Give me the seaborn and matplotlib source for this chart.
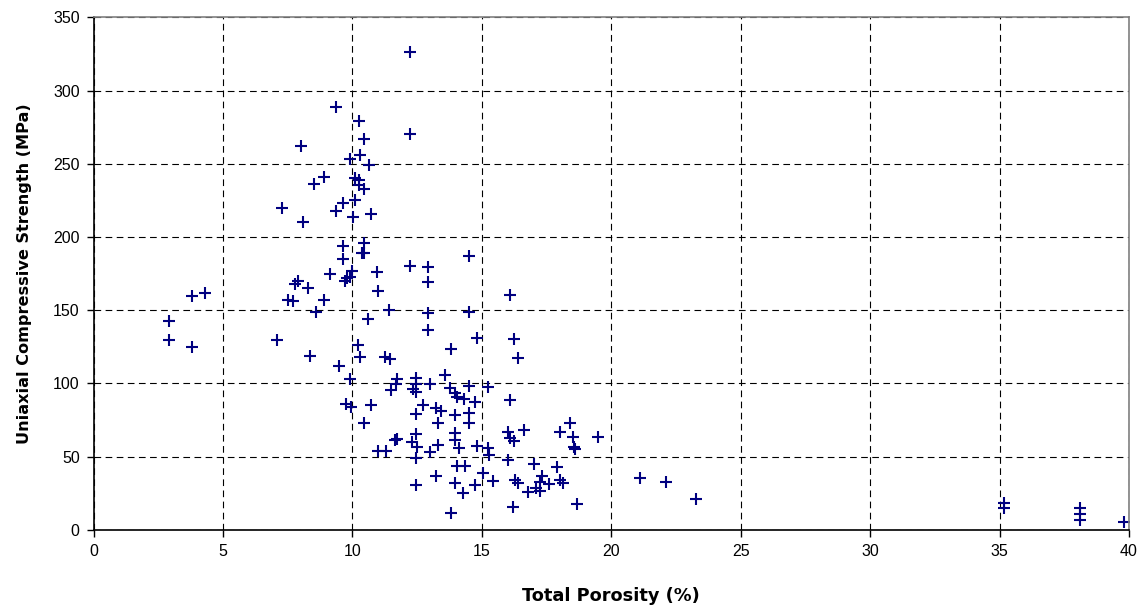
import matplotlib
matplotlib.use("Agg")
import matplotlib.pyplot as plt
import seaborn as sns
import pandas as pd

# Total porosity (%) and uniaxial compressive strength (MPa) per sample
porosity = [
    2.9, 2.9, 3.8, 4.3, 3.8,
    7.1, 7.3, 7.5, 7.7, 7.8, 7.9, 8.0, 8.1, 8.3, 8.35, 8.5, 8.6, 8.9, 8.9,
    9.15, 9.35, 9.35, 9.5, 9.65, 9.65, 9.65, 9.72, 9.78, 9.76, 9.89, 9.91,
    9.92, 9.95, 9.98, 10.01,
    10.1, 10.1, 10.27, 10.27, 10.3, 10.27, 10.43, 10.43, 10.43, 10.43, 10.36,
    10.66, 10.71, 10.2, 10.3, 10.43, 10.62, 10.72, 10.94, 11.0, 10.98, 11.3,
    11.26, 11.46, 11.43,
    11.73, 11.68, 11.5, 11.65, 11.72, 12.3, 12.51,
    12.45, 12.47, 12.45, 12.45, 12.47, 12.47, 12.36, 12.47, 12.23, 12.23,
    12.23, 12.72, 12.94, 12.94, 12.94, 12.94, 12.98, 12.98,
    13.23, 13.43, 13.32, 13.32, 13.23, 13.58, 13.81, 13.78, 13.97, 14.03,
    13.97, 13.97, 13.97, 14.1, 14.06, 14.35, 13.97, 14.29, 13.81, 14.32,
    14.52, 14.52, 14.52, 14.52, 14.52, 14.74, 14.74, 14.81, 14.81,
    15.23, 15.22, 15.29, 15.04, 15.42, 16.09, 16.26, 16.39, 16.09, 16.03,
    16.07, 16.26, 16.61, 16.03, 17.03, 17.9, 16.29, 16.39, 17.32, 17.25,
    17.61, 18.03, 18.15, 16.8, 17.1, 17.25, 16.22, 18.67, 18.39, 18.03,
    18.54, 18.57, 18.6, 19.5,
    21.12, 22.12, 23.28, 35.18, 35.18, 38.09, 38.09, 38.09, 39.79,
]
strength = [
    143, 130, 160, 161.5, 125,
    130, 220, 157, 156, 168, 170, 262, 210, 165, 119, 236, 149, 157, 241,
    175, 218, 289, 112, 223, 194, 185, 170, 172, 86, 173, 253,
    103, 84, 177, 214,
    240, 225, 239, 279, 256, 235.5, 233, 267, 196, 189, 189,
    249, 216, 126, 118, 73, 144, 85, 176, 163, 54, 54,
    118, 117, 150,
    103, 99.5, 95.3, 61.4, 62, 60.3, 56.4,
    79, 65.5, 49, 30.7, 104, 99.7, 96.2, 94, 326, 270,
    180, 85.3, 179.5, 169, 148, 136.5, 99.7, 53.5,
    83.5, 81.4, 73, 58, 36.9, 106, 123.5, 96.7, 93.3, 90.6,
    78.5, 66.4, 61.4, 55.8, 43.7, 43.7, 31.9, 25.5, 11.8, 89.2,
    98.3, 80, 73, 148.6, 187, 87.6, 30.7, 130.8, 57,
    97.4, 55.8, 51, 38.7, 33.5, 160.4, 130.4, 117.6, 88.7, 67.1,
    62.6, 61, 68.3, 47.8, 45, 43.2, 34.1, 32.3, 36.9, 33,
    31.4, 34.1, 32.3, 26.2, 28.5, 26.8, 15.5, 17.5, 73.2, 67.1,
    63.3, 56.9, 55.1, 63.7,
    35.3, 33, 21.2, 18.2, 14.8, 14.8, 10.9, 6.8, 5.3,
]

x_ticks = [0, 5, 10, 15, 20, 25, 30, 35, 40]
y_ticks = [0, 50, 100, 150, 200, 250, 300, 350]

df = pd.DataFrame({"porosity": porosity, "ucs": strength})

sns.set_style("white")
plt.rcParams["font.family"] = ["Liberation Sans", "DejaVu Sans"]
plt.rcParams["text.color"] = "black"
plt.rcParams["axes.labelcolor"] = "black"
plt.rcParams["xtick.color"] = "black"
plt.rcParams["ytick.color"] = "black"

fig = plt.figure(figsize=(11.42, 6.07), dpi=100)
ax = fig.add_axes([0.0819, 0.1269, 0.9067, 0.8446])

sns.scatterplot(data=df, x="porosity", y="ucs", marker="+", s=75,
                color="#000080", linewidth=1.5, ax=ax, legend=False)

ax.set_xlim(0, 40)
ax.set_ylim(0, 350)
ax.set_xticks(x_ticks)
ax.set_yticks(y_ticks)
ax.set_xticklabels([str(t) for t in x_ticks], fontsize=11.5)
ax.set_yticklabels([str(t) for t in y_ticks], fontsize=11.5)

ax.grid(True, color="black", linestyle=(0, (6, 4)), linewidth=0.8)
ax.set_axisbelow(True)

for side in ("left", "bottom"):
    ax.spines[side].set_color("black")
    ax.spines[side].set_linewidth(1.2)
for side in ("top", "right"):
    ax.spines[side].set_color("#808080")
    ax.spines[side].set_linewidth(1.2)

ax.tick_params(axis="both", direction="out", length=5, width=1,
               colors="black", pad=5, bottom=True, left=True)

# Axis titles in a wider bold face
ax.set_xlabel("Total Porosity (%)", labelpad=20, family=["DejaVu Sans"],
              fontsize=12.8, fontweight="bold", color="black")
ax.set_ylabel("Uniaxial Compressive Strength (MPa)", labelpad=15,
              family=["DejaVu Sans"], fontsize=11.6, fontweight="bold",
              color="black")

fig.savefig("out.png", dpi=100)
